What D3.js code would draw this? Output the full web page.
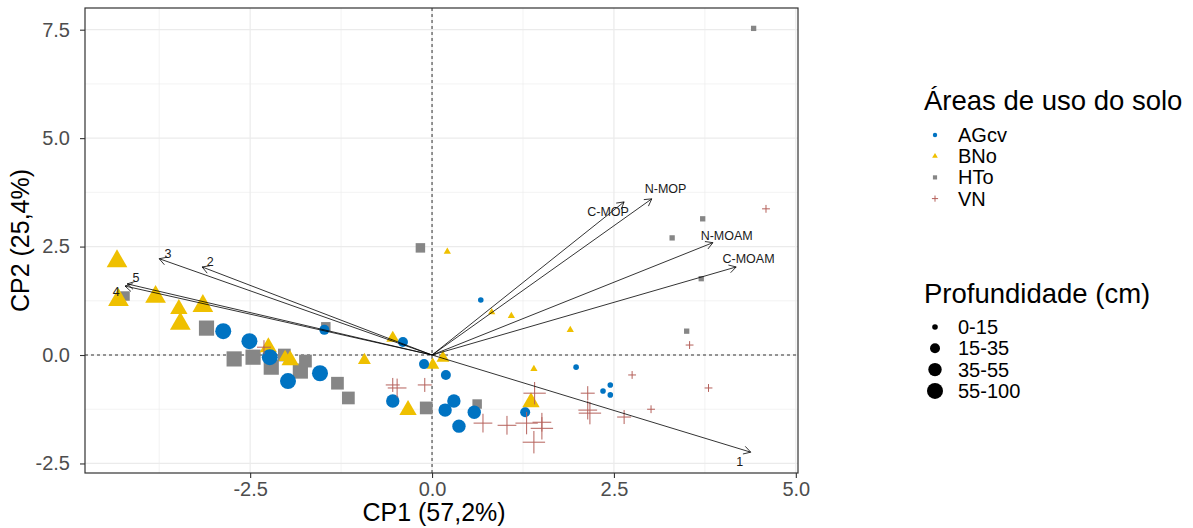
<!DOCTYPE html>
<html>
<head>
<meta charset="utf-8">
<script src="https://cdn.jsdelivr.net/npm/d3@7"></script>
<style>
  body { margin: 0; background: #fff; }
  text { font-family: Arial, "Liberation Sans", sans-serif; }
</style>
</head>
<body>
<script>

// legend groups
var groups = ["AGcv", "BNo", "HTo", "VN"];
var groupColors = ["#0073C2", "#EFC000", "#868686", "#B5615B"];
var depths = ["0-15", "15-35", "35-55", "55-100"];

// PCA scores: [CP1, CP2, depth index]
var agcv = [
  [0.67, 1.27, 0], [1.98, -0.28, 0], [2.45, -0.69, 0], [2.35, -0.83, 0], [2.45, -0.92, 0],
  [-1.48, 0.58, 1], [-0.40, 0.30, 1], [-0.11, -0.21, 1], [0.19, -0.46, 1], [1.28, -1.32, 1],
  [-0.54, -1.06, 2], [0.30, -1.06, 2], [0.18, -1.27, 2], [0.58, -1.32, 2], [0.37, -1.64, 2],
  [-2.87, 0.55, 3], [-2.51, 0.32, 3], [-2.23, -0.05, 3], [-1.98, -0.60, 3], [-1.54, -0.42, 3]
];
var bno = [
  [0.21, 2.38, 0], [0.82, 0.99, 0], [1.09, 0.90, 0], [1.90, 0.58, 0], [1.40, -0.32, 0],
  [-2.02, -0.05, 1], [-0.93, -0.12, 1], [-0.54, 0.39, 1], [0.01, -0.23, 1], [0.15, -0.07, 1],
  [-3.48, 1.06, 2], [-0.33, -1.27, 2], [1.36, -1.09, 2], [-2.25, 0.18, 2], [-1.95, -0.12, 2],
  [-4.33, 2.16, 3], [-4.31, 1.27, 3], [-3.80, 1.34, 3], [-3.46, 0.72, 3], [-3.15, 1.13, 3]
];
var hto = [
  [4.42, 7.53, 0], [3.72, 3.14, 0], [3.30, 2.70, 0], [3.70, 1.76, 0], [3.50, 0.55, 0],
  [-4.22, 1.36, 1], [-1.46, 0.65, 1], [-0.16, 2.47, 1], [0.62, -1.13, 1],
  [-1.74, -0.14, 2], [-2.03, 0.00, 2], [-1.30, -0.65, 2], [-1.15, -0.99, 2], [-0.08, -1.22, 2],
  [-3.10, 0.62, 3], [-2.72, -0.09, 3], [-2.46, -0.05, 3], [-2.21, -0.28, 3], [-1.81, -0.37, 3]
];
var vn = [
  [4.59, 3.37, 0], [3.54, 0.23, 0], [3.80, -0.76, 0], [3.01, -1.25, 0], [2.75, -0.46, 0],
  [-2.31, 0.18, 1], [-0.54, -0.69, 1], [-0.10, -0.69, 1], [2.64, -1.43, 1], [2.14, -0.88, 1],
  [-0.48, -0.76, 2], [0.70, -1.57, 2], [1.03, -1.62, 2], [1.51, -1.55, 2], [2.14, -1.27, 2],
  [1.30, -1.57, 3], [1.41, -0.88, 3], [1.51, -1.69, 3], [1.40, -2.01, 3], [2.17, -1.34, 3]
];

// variable loadings (arrow tips) and label positions
var loadNames = ["C-MOP", "N-MOP", "N-MOAM", "C-MOAM", "1", "2", "3", "5", "4"];
var loadX = [2.64, 3.02, 3.86, 4.18, 4.38, -3.16, -3.75, -4.19, -4.22];
var loadY = [3.53, 3.60, 2.59, 2.03, -2.24, 2.03, 2.22, 1.64, 1.59];
var labelX = [2.42, 3.21, 4.05, 4.35, 4.23, -3.05, -3.63, -4.07, -4.34];
var labelY = [3.30, 3.83, 2.75, 2.22, -2.45, 2.15, 2.33, 1.78, 1.45];

var xTicks = [-2.5, 0, 2.5, 5];
var yTicks = [-2.5, 0, 2.5, 5, 7.5];
var xMinor = [-3.75, -1.25, 1.25, 3.75];
var yMinor = [-1.25, 1.25, 3.75, 6.25];

// set the dimensions and margins of the graph
var margin = {top: 8, right: 395, bottom: 55, left: 85},
    width = 1193 - margin.left - margin.right,
    height = 528 - margin.top - margin.bottom;

var root = d3.select("body")
  .append("svg")
    .attr("width", 1193)
    .attr("height", 528);

var svg = root.append("g")
    .attr("transform", "translate(" + margin.left + "," + margin.top + ")");

var x = d3.scaleLinear()
  .domain([-4.77, 5.03])
  .range([0, width]);

var y = d3.scaleLinear()
  .domain([-2.72, 8.0])
  .range([height, 0]);

// panel background + grid
svg.append("rect")
  .attr("width", width).attr("height", height)
  .attr("fill", "white");

svg.selectAll(".xminor").data(xMinor).enter().append("line")
  .attr("x1", d => x(d)).attr("x2", d => x(d))
  .attr("y1", 0).attr("y2", height)
  .attr("stroke", "#EBEBEB").attr("stroke-width", 0.6);
svg.selectAll(".yminor").data(yMinor).enter().append("line")
  .attr("y1", d => y(d)).attr("y2", d => y(d))
  .attr("x1", 0).attr("x2", width)
  .attr("stroke", "#EBEBEB").attr("stroke-width", 0.6);
svg.selectAll(".xmajor").data(xTicks).enter().append("line")
  .attr("x1", d => x(d)).attr("x2", d => x(d))
  .attr("y1", 0).attr("y2", height)
  .attr("stroke", "#EBEBEB").attr("stroke-width", 1.2);
svg.selectAll(".ymajor").data(yTicks).enter().append("line")
  .attr("y1", d => y(d)).attr("y2", d => y(d))
  .attr("x1", 0).attr("x2", width)
  .attr("stroke", "#EBEBEB").attr("stroke-width", 1.2);

// dashed reference lines
svg.append("line")
  .attr("x1", x(0)).attr("x2", x(0)).attr("y1", 0).attr("y2", height)
  .attr("stroke", "black").attr("stroke-width", 0.8).attr("stroke-dasharray", "3,3");
svg.append("line")
  .attr("x1", 0).attr("x2", width).attr("y1", y(0)).attr("y2", y(0))
  .attr("stroke", "black").attr("stroke-width", 0.8).attr("stroke-dasharray", "3,3");

// point sizes by depth (circle radius in px)
var rad = d3.scaleOrdinal().domain([0, 1, 2, 3]).range([2.8, 5, 6.7, 8]);

function drawShape(sel, g, r) {
  if (g === "VN") {
    var a = r * 1.4;
    sel.append("path")
      .attr("d", "M" + (-a) + ",0H" + a + "M0," + (-a) + "V" + a)
      .attr("fill", "none")
      .attr("stroke", groupColors[3])
      .attr("stroke-width", 1);
  } else {
    var type = g === "AGcv" ? d3.symbolCircle : (g === "BNo" ? d3.symbolTriangle : d3.symbolSquare);
    var area = g === "AGcv" ? Math.PI * r * r : (g === "BNo" ? 2.9 * r * r : 3.6 * r * r);
    sel.append("path")
      .attr("d", d3.symbol().type(type).size(area)())
      .attr("fill", groupColors[groups.indexOf(g)]);
  }
}

var scoreSets = [["HTo", hto], ["BNo", bno], ["AGcv", agcv], ["VN", vn]];
scoreSets.forEach(function(s) {
  svg.append("g").selectAll("g")
    .data(s[1])
    .enter()
    .append("g")
      .attr("transform", d => "translate(" + x(d[0]) + "," + y(d[1]) + ")")
      .each(function(d) { drawShape(d3.select(this), s[0], rad(d[2])); });
});

// loading arrows
var arrows = svg.append("g");
loadNames.forEach(function(n, i) {
  var x0 = x(0), y0 = y(0), x1 = x(loadX[i]), y1 = y(loadY[i]);
  var ang = Math.atan2(y1 - y0, x1 - x0), L = 8, h = Math.PI / 6;
  arrows.append("line")
    .attr("x1", x0).attr("y1", y0).attr("x2", x1).attr("y2", y1)
    .attr("stroke", "black").attr("stroke-width", 0.8);
  arrows.append("path")
    .attr("d", "M" + (x1 - L * Math.cos(ang - h)) + "," + (y1 - L * Math.sin(ang - h)) +
               "L" + x1 + "," + y1 +
               "L" + (x1 - L * Math.cos(ang + h)) + "," + (y1 - L * Math.sin(ang + h)))
    .attr("fill", "none").attr("stroke", "black").attr("stroke-width", 0.8);
  arrows.append("text")
    .attr("x", x(labelX[i])).attr("y", y(labelY[i]))
    .attr("dy", "0.35em")
    .attr("text-anchor", "middle")
    .style("font-size", "12.5px")
    .attr("fill", "#1A1A1A")
    .text(n);
});

// panel border
svg.append("rect")
  .attr("width", width).attr("height", height)
  .attr("fill", "none").attr("stroke", "#333333").attr("stroke-width", 1.2);

// axes
var xAxis = svg.append("g")
  .attr("transform", "translate(0," + height + ")")
  .call(d3.axisBottom(x).tickValues(xTicks).tickSize(5).tickFormat(d => d.toFixed(1)));
var yAxis = svg.append("g")
  .call(d3.axisLeft(y).tickValues(yTicks).tickSize(5).tickFormat(d => d.toFixed(1)));
[xAxis, yAxis].forEach(function(a) {
  a.select(".domain").remove();
  a.selectAll("line").attr("stroke", "#333333").attr("stroke-width", 1.1);
  a.selectAll("text").attr("fill", "#4D4D4D").style("font-size", "20px").attr("font-family", null);
});
xAxis.selectAll("text").attr("y", 9);
yAxis.selectAll("text").attr("x", -15);

svg.append("text")
  .attr("x", x(0) + 2).attr("y", height + 48)
  .attr("text-anchor", "middle")
  .style("font-size", "25px")
  .text("CP1 (57,2%)");
svg.append("text")
  .attr("transform", "translate(" + (-56) + "," + (height / 2) + ") rotate(-90)")
  .attr("text-anchor", "middle")
  .style("font-size", "25px")
  .text("CP2 (25,4%)");

// legends
var leg = root.append("g");
leg.append("text")
  .attr("x", 924).attr("y", 110)
  .style("font-size", "27.5px")
  .text("Áreas de uso do solo");
groups.forEach(function(g, i) {
  var item = leg.append("g").attr("transform", "translate(935," + (135 + i * 21.2) + ")");
  drawShape(item, g, 2.2);
  leg.append("text")
    .attr("x", 958).attr("y", 135 + i * 21.2).attr("dy", "0.35em")
    .style("font-size", "20px")
    .text(g);
});

leg.append("text")
  .attr("x", 924).attr("y", 303)
  .style("font-size", "27.5px")
  .text("Profundidade (cm)");
depths.forEach(function(d, i) {
  leg.append("circle")
    .attr("cx", 935).attr("cy", 327 + i * 21.3)
    .attr("r", rad(i))
    .attr("fill", "black");
  leg.append("text")
    .attr("x", 958).attr("y", 327 + i * 21.3).attr("dy", "0.35em")
    .style("font-size", "20px")
    .text(d);
});

</script>
</body>
</html>
